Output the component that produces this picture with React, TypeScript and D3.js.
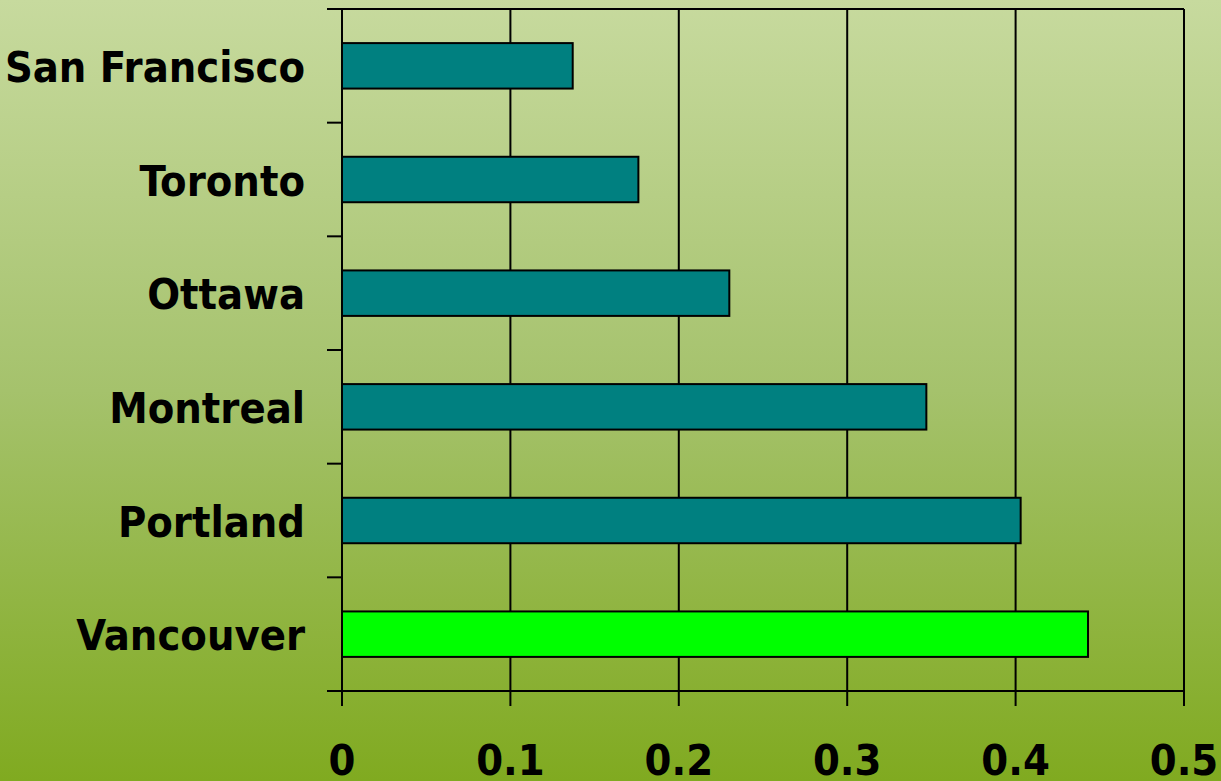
import React, { useEffect, useRef } from "react";
import * as d3 from "d3";

// City values, drawn top to bottom
const cities = ["San Francisco", "Toronto", "Ottawa", "Montreal", "Portland", "Vancouver"];
const values = [0.137, 0.176, 0.23, 0.347, 0.403, 0.443];
const barColors = ["#008080", "#008080", "#008080", "#008080", "#008080", "#00ff00"];
const xTicks = [0, 0.1, 0.2, 0.3, 0.4, 0.5];
const xTickLabels = ["0", "0.1", "0.2", "0.3", "0.4", "0.5"];

const W = 1221;
const H = 781;
const left = 342;
const right = 1184;
const top = 9;
const bottom = 691;
const tickLen = 15;
const font = "'DejaVu Sans Condensed', 'DejaVu Sans', sans-serif";

export default function App() {
  const ref = useRef<SVGSVGElement>(null);

  useEffect(() => {
    const svg = d3.select(ref.current);
    svg.selectAll("*").remove();

    const defs = svg.append("defs");
    const grad = defs
      .append("linearGradient")
      .attr("id", "bg")
      .attr("x1", 0)
      .attr("y1", 0)
      .attr("x2", 0)
      .attr("y2", 1);
    grad.append("stop").attr("offset", "0%").attr("stop-color", "#c7da9e");
    grad.append("stop").attr("offset", "50%").attr("stop-color", "#a5c26c");
    grad.append("stop").attr("offset", "100%").attr("stop-color", "#80aa20");

    svg.append("rect").attr("width", W).attr("height", H).attr("fill", "url(#bg)");

    const x = d3.scaleLinear().domain([0, 0.5]).range([left, right]);
    const y = d3
      .scaleBand<string>()
      .domain(cities)
      .range([top, bottom])
      .paddingInner(0.6)
      .paddingOuter(0.3);

    const g = svg.append("g");

    // vertical gridlines
    g.selectAll("line.grid")
      .data(xTicks.slice(1))
      .join("line")
      .attr("class", "grid")
      .attr("x1", (d) => x(d))
      .attr("x2", (d) => x(d))
      .attr("y1", top)
      .attr("y2", bottom)
      .attr("stroke", "#000")
      .attr("stroke-width", 2);

    // top border
    g.append("line")
      .attr("x1", left - tickLen)
      .attr("x2", right)
      .attr("y1", top)
      .attr("y2", top)
      .attr("stroke", "#000")
      .attr("stroke-width", 2);

    // bars
    g.selectAll("rect.bar")
      .data(cities)
      .join("rect")
      .attr("class", "bar")
      .attr("x", x(0))
      .attr("y", (d) => y(d)!)
      .attr("width", (_d, i) => x(values[i]) - x(0))
      .attr("height", y.bandwidth())
      .attr("fill", (_d, i) => barColors[i])
      .attr("stroke", "#000")
      .attr("stroke-width", 2);

    // left axis line and category boundary ticks
    g.append("line")
      .attr("x1", left)
      .attr("x2", left)
      .attr("y1", top)
      .attr("y2", bottom)
      .attr("stroke", "#000")
      .attr("stroke-width", 2);
    const step = y.step();
    const bounds = d3.range(cities.length + 1).map((i) => top + i * step);
    g.selectAll("line.ytick")
      .data(bounds)
      .join("line")
      .attr("class", "ytick")
      .attr("x1", left - tickLen)
      .attr("x2", left)
      .attr("y1", (d) => d)
      .attr("y2", (d) => d)
      .attr("stroke", "#000")
      .attr("stroke-width", 2);

    // bottom axis
    g.append("line")
      .attr("x1", left - tickLen)
      .attr("x2", right)
      .attr("y1", bottom)
      .attr("y2", bottom)
      .attr("stroke", "#000")
      .attr("stroke-width", 2);
    g.selectAll("line.xtick")
      .data(xTicks)
      .join("line")
      .attr("class", "xtick")
      .attr("x1", (d) => x(d))
      .attr("x2", (d) => x(d))
      .attr("y1", bottom)
      .attr("y2", bottom + tickLen)
      .attr("stroke", "#000")
      .attr("stroke-width", 2);

    // category labels
    g.selectAll("text.ylab")
      .data(cities)
      .join("text")
      .attr("class", "ylab")
      .attr("x", 305)
      .attr("y", (d) => y(d)! + y.bandwidth() / 2 + 16)
      .attr("text-anchor", "end")
      .attr("font-family", font)
      .attr("font-stretch", "condensed")
      .attr("font-weight", "bold")
      .attr("font-size", 43)
      .attr("fill", "#000")
      .text((d) => d);

    // value tick labels
    g.selectAll("text.xlab")
      .data(xTicks)
      .join("text")
      .attr("class", "xlab")
      .attr("x", (d) => x(d))
      .attr("y", 775)
      .attr("text-anchor", "middle")
      .attr("font-family", font)
      .attr("font-stretch", "condensed")
      .attr("font-weight", "bold")
      .attr("font-size", 43)
      .attr("fill", "#000")
      .text((_d, i) => xTickLabels[i]);
  }, []);

  return (
    <svg
      ref={ref}
      width={W}
      height={H}
      style={{ position: "absolute", left: 0, top: 0, display: "block" }}
    />
  );
}
